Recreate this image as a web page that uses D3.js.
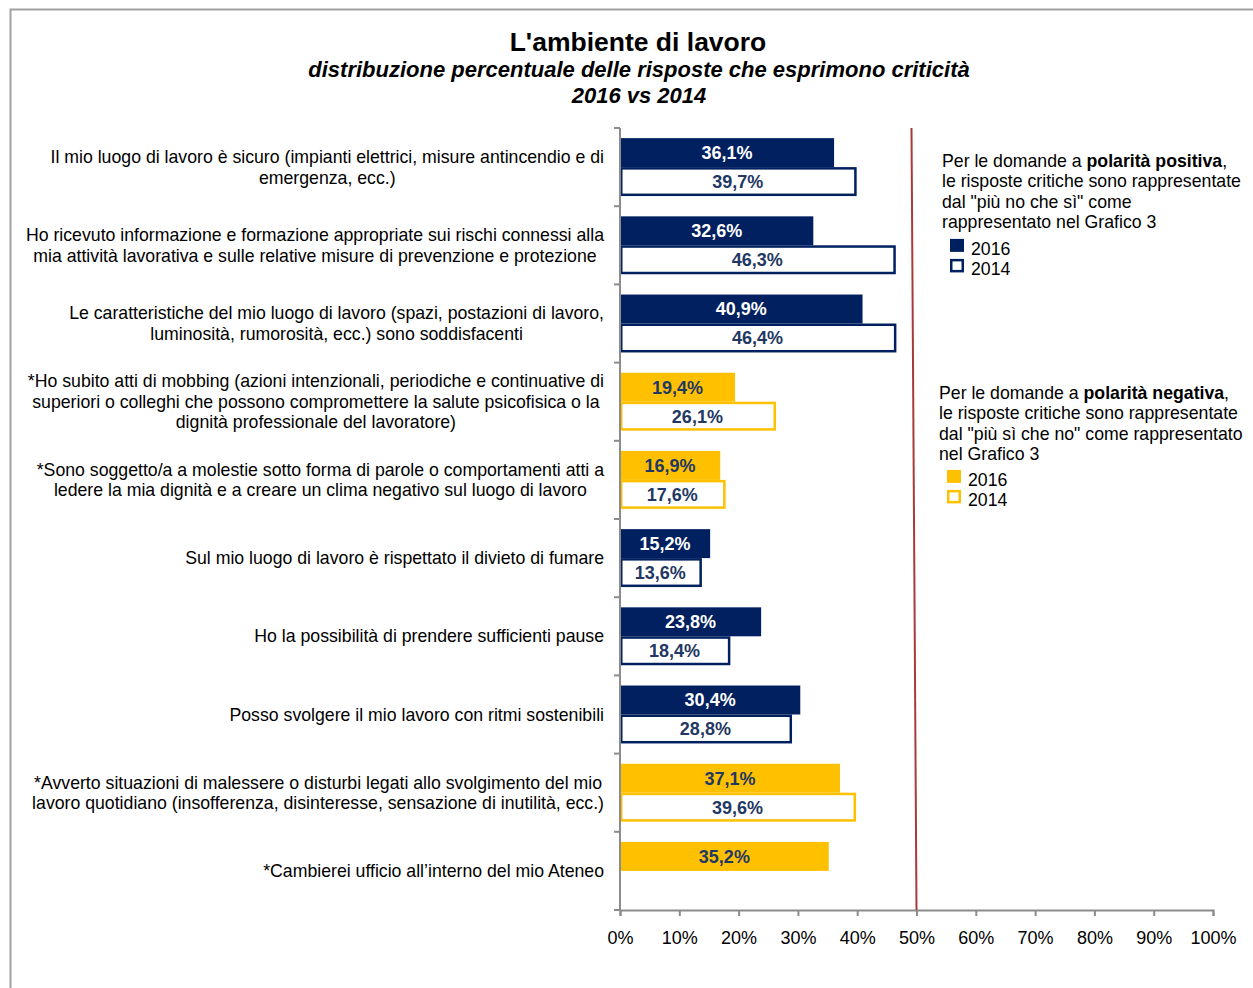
<!DOCTYPE html>
<html>
<head>
<meta charset="utf-8">
<script src="https://cdn.jsdelivr.net/npm/d3@7"></script>
<style>
  html, body { margin: 0; padding: 0; background: #fff; }
  svg { display: block; font-family: "Liberation Sans", Arial, sans-serif; }
</style>
</head>
<body>
<svg id="chart" width="1253" height="988"></svg>
<script>
// Questions (each entry is the list of wrapped lines)
const categories = [
  ["Il mio luogo di lavoro è sicuro (impianti elettrici, misure antincendio e di", "emergenza, ecc.)"],
  ["Ho ricevuto informazione e formazione appropriate sui rischi connessi alla", "mia attività lavorativa e sulle relative misure di prevenzione e protezione"],
  ["Le caratteristiche del mio luogo di lavoro (spazi, postazioni di lavoro,", "luminosità, rumorosità, ecc.) sono soddisfacenti"],
  ["*Ho subito atti di mobbing (azioni intenzionali, periodiche e continuative di", "superiori o colleghi che possono compromettere la salute psicofisica o la", "dignità professionale del lavoratore)"],
  ["*Sono soggetto/a a molestie sotto forma di parole o comportamenti atti a", "ledere la mia dignità e a creare un clima negativo sul luogo di lavoro"],
  ["Sul mio luogo di lavoro è rispettato il divieto di fumare"],
  ["Ho la possibilità di prendere sufficienti pause"],
  ["Posso svolgere il mio lavoro con ritmi sostenibili"],
  ["*Avverto situazioni di malessere o disturbi legati allo svolgimento del mio", "lavoro quotidiano (insofferenza, disinteresse, sensazione di inutilità, ecc.)"],
  ["*Cambierei ufficio all’interno del mio Ateneo"]
];
// Percentage of critical answers
const values2016 = [36.1, 32.6, 40.9, 19.4, 16.9, 15.2, 23.8, 30.4, 37.1, 35.2];
const values2014 = [39.7, 46.3, 46.4, 26.1, 17.6, 13.6, 18.4, 28.8, 39.6, null];
// Question polarity: "pos" = positive, "neg" = negative
const polarity = ["pos", "pos", "pos", "neg", "neg", "pos", "pos", "pos", "neg", "neg"];
const years = ["2016", "2014"];
const xTicks = [0, 10, 20, 30, 40, 50, 60, 70, 80, 90, 100];
const threshold = 50;

const NAVY = "#002060";
const GOLD = "#FFC000";
const colorOf = p => p === "pos" ? NAVY : GOLD;
const TXT = 17.7;

const svg = d3.select("#chart");

// Frame around the page
svg.append("path")
  .attr("d", "M10.5,988 L10.5,9.5 L1253,9.5")
  .attr("fill", "none").attr("stroke", "#a0a0a0").attr("stroke-width", 2);

// Titles
svg.append("text").attr("x", 638).attr("y", 51).attr("text-anchor", "middle")
  .attr("font-size", 26.5).attr("font-weight", "bold").attr("fill", "#000")
  .text("L'ambiente di lavoro");
svg.append("text").attr("x", 639).attr("y", 77).attr("text-anchor", "middle")
  .attr("font-size", 22).attr("font-weight", "bold").attr("font-style", "italic").attr("fill", "#000")
  .text("distribuzione percentuale delle risposte che esprimono criticità");
svg.append("text").attr("x", 639).attr("y", 103).attr("text-anchor", "middle")
  .attr("font-size", 22).attr("font-weight", "bold").attr("font-style", "italic").attr("fill", "#000")
  .text("2016 vs 2014");

// Scales
const plot = { left: 620, right: 1213, top: 128, bottom: 910 };
const x = d3.scaleLinear().domain([0, 100]).range([plot.left, plot.right]);
const y = d3.scaleBand().domain(d3.range(categories.length)).range([plot.top, plot.bottom]).paddingInner(0).paddingOuter(0);
const inner = d3.scaleBand().domain(years).range([0, y.bandwidth()]).paddingInner(0).paddingOuter(0.35);

// Bars
const g = svg.append("g");
categories.forEach((c, i) => {
  const col = colorOf(polarity[i]);
  const gy = y(i);
  // 2016: filled
  const v16 = values2016[i];
  g.append("rect")
    .attr("x", x(0)).attr("y", gy + inner("2016"))
    .attr("width", x(v16) - x(0)).attr("height", inner.bandwidth())
    .attr("fill", col);
  g.append("text")
    .attr("x", (x(0) + x(v16)) / 2).attr("y", gy + inner("2016") + inner.bandwidth() / 2)
    .attr("dy", "0.36em").attr("text-anchor", "middle")
    .attr("font-size", 18).attr("font-weight", "bold")
    .attr("fill", polarity[i] === "pos" ? "#fff" : "#1F3864")
    .text(v16.toFixed(1).replace(".", ",") + "%");
  // 2014: outlined
  const v14 = values2014[i];
  if (v14 != null) {
    g.append("rect")
      .attr("x", x(0) + 1.25).attr("y", gy + inner("2014") + 1.25)
      .attr("width", x(v14) - x(0) - 1.25).attr("height", inner.bandwidth() - 2.5)
      .attr("fill", "#fff").attr("stroke", col).attr("stroke-width", 2.5);
    g.append("text")
      .attr("x", (x(0) + x(v14)) / 2).attr("y", gy + inner("2014") + inner.bandwidth() / 2)
      .attr("dy", "0.36em").attr("text-anchor", "middle")
      .attr("font-size", 18).attr("font-weight", "bold")
      .attr("fill", "#1F3864")
      .text(v14.toFixed(1).replace(".", ",") + "%");
  }
});

// Category axis (left), tick marks at band boundaries
const yAxis = svg.append("g");
yAxis.append("line").attr("x1", plot.left).attr("x2", plot.left)
  .attr("y1", plot.top).attr("y2", plot.bottom).attr("stroke", "#8c8c8c").attr("stroke-width", 2);
d3.range(categories.length + 1).forEach(i => {
  const yy = plot.top + i * y.step();
  yAxis.append("line").attr("x1", plot.left - 6).attr("x2", plot.left)
    .attr("y1", yy).attr("y2", yy).attr("stroke", "#8c8c8c").attr("stroke-width", 2);
});

// Category labels: lines centred on each other, block right-aligned
const lineH = 20.5;
const labels = svg.append("g").attr("font-size", TXT).attr("fill", "#000");
categories.forEach((lines, i) => {
  const t = labels.append("text").attr("text-anchor", "middle");
  const spans = lines.map(l => t.append("tspan").text(l));
  const w = d3.max(spans, s => s.node().getComputedTextLength());
  const cx = 604 - w / 2;
  const cy = y(i) + y.bandwidth() / 2;
  spans.forEach((s, k) => {
    s.attr("x", cx).attr("y", cy + (k - (lines.length - 1) / 2) * lineH).attr("dy", "0.35em");
  });
});

// Value axis (bottom)
const xAxis = d3.axisBottom(x).tickValues(xTicks).tickSize(6).tickPadding(15)
  .tickFormat(d => d + "%");
const xg = svg.append("g").attr("transform", `translate(0,${plot.bottom})`).call(xAxis);
xg.select(".domain").attr("stroke", "#8c8c8c").attr("stroke-width", 2);
xg.selectAll(".tick line").attr("stroke", "#8c8c8c").attr("stroke-width", 2);
xg.selectAll(".tick text").attr("font-size", 18).attr("fill", "#000")
  .attr("font-family", "'Liberation Sans', Arial, sans-serif");

// 50% reference line
svg.append("line")
  .attr("x1", x(threshold) - 5).attr("y1", plot.top)
  .attr("x2", x(threshold)).attr("y2", plot.bottom)
  .attr("stroke", "#A93A3A").attr("stroke-width", 2);

// Legend blocks
function legendBlock(x0, y0, kind, color) {
  const lg = svg.append("g").attr("font-size", TXT).attr("fill", "#000");
  const t1 = lg.append("text").attr("x", x0).attr("y", y0);
  t1.append("tspan").text("Per le domande a ");
  t1.append("tspan").attr("font-weight", "bold").text(kind === "pos" ? "polarità positiva" : "polarità negativa");
  t1.append("tspan").text(",");
  const rest = kind === "pos"
    ? ["le risposte critiche sono rappresentate", "dal \"più no che sì\" come", "rappresentato nel Grafico 3"]
    : ["le risposte critiche sono rappresentate", "dal \"più sì che no\" come rappresentato", "nel Grafico 3"];
  rest.forEach((r, k) => lg.append("text").attr("x", x0).attr("y", y0 + (k + 1) * 20.3).text(r));
  const ly = y0 + rest.length * 20.3;
  const ky = kind === "pos" ? ly + 11 : ly + 10;
  lg.append("rect").attr("x", x0 + 8).attr("y", ky).attr("width", 14).attr("height", 13).attr("fill", color);
  lg.append("text").attr("x", x0 + 29).attr("y", ky + 16).text(years[0]);
  lg.append("rect").attr("x", x0 + 9.25).attr("y", ky + 21.25).attr("width", 11.5).attr("height", 11)
    .attr("fill", "#fff").attr("stroke", color).attr("stroke-width", 2.5);
  lg.append("text").attr("x", x0 + 29).attr("y", ky + 36).text(years[1]);
}
legendBlock(942, 167, "pos", NAVY);
legendBlock(939, 399, "neg", GOLD);
</script>
</body>
</html>
